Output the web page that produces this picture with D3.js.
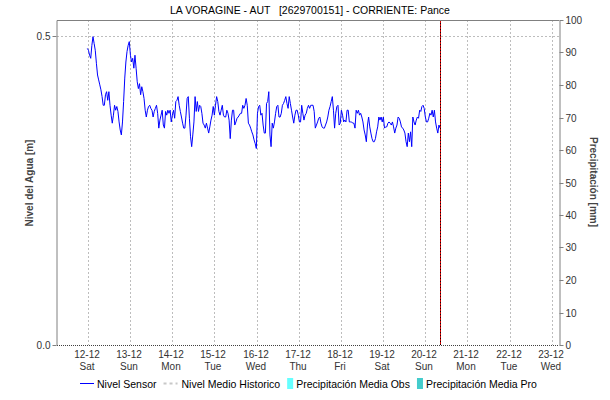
<!DOCTYPE html>
<html>
<head>
<meta charset="utf-8">
<script src="https://cdn.jsdelivr.net/npm/d3@7"></script>
<style>
  body { margin: 0; background: #fff; }
  svg { display: block; font-family: "Liberation Sans", Arial, sans-serif; }
</style>
</head>
<body>
<svg id="chart" width="610" height="400"></svg>
<script>
// Estación y serie de nivel
const titulo = "LA VORAGINE - AUT   [2629700151] - CORRIENTE: Pance";
const inicioSerie = "2020-12-11T23:36:00Z";
const pasoMinutos = 38.75;
const nivel = [
  0.480,0.477,0.469,0.464,0.485,0.499,0.488,0.477,0.456,0.437,
  0.429,0.421,0.413,0.402,0.388,0.388,0.405,0.410,0.396,0.410,
  0.388,0.372,0.359,0.372,0.388,0.380,0.386,0.378,0.361,0.348,
  0.340,0.361,0.394,0.432,0.458,0.475,0.485,0.491,0.469,0.458,
  0.464,0.448,0.469,0.448,0.426,0.415,0.423,0.405,0.418,0.410,
  0.399,0.380,0.369,0.380,0.386,0.388,0.383,0.380,0.369,0.378,
  0.383,0.388,0.375,0.351,0.364,0.372,0.380,0.356,0.351,0.378,
  0.372,0.380,0.375,0.380,0.361,0.372,0.380,0.367,0.394,0.396,
  0.402,0.388,0.378,0.369,0.359,0.351,0.351,0.372,0.399,0.402,
  0.367,0.337,0.321,0.340,0.361,0.402,0.378,0.394,0.378,0.388,
  0.386,0.375,0.359,0.356,0.351,0.359,0.351,0.343,0.353,0.364,
  0.372,0.386,0.372,0.388,0.402,0.394,0.378,0.372,0.380,0.388,
  0.372,0.369,0.369,0.380,0.375,0.364,0.334,0.364,0.380,0.380,
  0.356,0.361,0.367,0.369,0.372,0.375,0.375,0.388,0.383,0.388,
  0.399,0.388,0.359,0.356,0.351,0.345,0.340,0.332,0.326,0.318,
  0.375,0.386,0.388,0.372,0.375,0.356,0.343,0.343,0.391,0.394,
  0.410,0.340,0.321,0.359,
  0.351,0.361,0.375,0.386,0.388,0.369,0.369,0.375,0.388,0.391,
  0.396,0.402,0.391,0.383,0.402,0.391,0.380,0.369,0.359,0.372,
  0.380,0.380,0.372,0.361,0.361,0.388,0.375,0.364,0.372,0.375,
  0.383,0.388,0.383,0.388,0.388,0.388,0.378,0.351,0.356,0.361,
  0.367,0.369,0.359,0.353,0.351,0.351,0.356,0.361,0.369,0.380,
  0.386,0.394,0.402,0.380,0.351,0.375,0.386,0.388,0.356,0.359,
  0.380,0.372,0.361,0.364,0.361,0.380,0.380,0.361,0.361,0.361,
  0.359,0.359,0.351,0.380,0.375,0.380,0.372,0.375,0.369,0.361,
  0.348,0.340,0.329,0.356,0.369,0.353,0.343,0.334,0.329,0.329,
  0.334,0.345,0.353,0.369,0.364,0.369,0.361,0.369,0.351,0.353,
  0.353,0.359,0.361,0.359,0.356,0.361,0.353,0.343,0.351,0.356,
  0.369,0.367,0.361,0.353,0.351,0.348,0.343,0.329,0.321,0.343,
  0.329,0.345,0.321,0.369,0.361,0.356,0.364,0.369,0.367,0.380,
  0.378,0.386,0.388,0.383,0.369,0.361,0.361,0.367,0.375,0.372,
  0.380,0.369,0.380,0.361,0.351,0.343,0.356,0.351
];

// Ejes
const dias = ["2020-12-12","2020-12-13","2020-12-14","2020-12-15","2020-12-16","2020-12-17",
              "2020-12-18","2020-12-19","2020-12-20","2020-12-21","2020-12-22","2020-12-23"];
const dominioTiempo = ["2020-12-11T06:20:00Z", "2020-12-23T04:10:00Z"];
const ticksNivel = [0, 0.5];
const maxNivel = 0.526;
const ticksPrecip = [0, 10, 20, 30, 40, 50, 60, 70, 80, 90, 100];
const horaActual = "2020-12-20T08:27:00Z";

// Leyenda
const leyenda = [
  { nombre: "Nivel Sensor", tipo: "linea", color: "#0000ff" },
  { nombre: "Nivel Medio Historico", tipo: "punteada", color: "#c8c8c8" },
  { nombre: "Precipitación Media Obs", tipo: "caja", color: "#66ffff" },
  { nombre: "Precipitación Media Pro", tipo: "caja", color: "#44cccc" }
];

const svg = d3.select("#chart");
const area = { izq: 57, der: 559, sup: 20, inf: 345 };

const t0 = new Date(inicioSerie).getTime();
const serie = nivel.map((v, i) => ({ t: new Date(t0 + i * pasoMinutos * 60000), v }));

const x = d3.scaleUtc().domain(dominioTiempo.map(d => new Date(d))).range([area.izq, area.der]);
const yN = d3.scaleLinear().domain([0, maxNivel]).range([area.inf, area.sup]);
const yP = d3.scaleLinear().domain([0, 100]).range([area.inf, area.sup]);

const gris = "#bdbdbd";

// Rejilla
const rej = svg.append("g");
rej.selectAll("line.v").data(dias).join("line")
  .attr("x1", d => Math.round(x(new Date(d + "T00:00:00Z"))) + 0.5)
  .attr("x2", d => Math.round(x(new Date(d + "T00:00:00Z"))) + 0.5)
  .attr("y1", area.sup).attr("y2", area.inf)
  .attr("stroke", gris).attr("stroke-dasharray", "2,2");
rej.selectAll("line.h").data(ticksNivel.filter(d => d > 0)).join("line")
  .attr("x1", area.izq).attr("x2", area.der)
  .attr("y1", d => Math.round(yN(d)) + 0.5).attr("y2", d => Math.round(yN(d)) + 0.5)
  .attr("stroke", gris).attr("stroke-dasharray", "2,2");

// Nivel del sensor
svg.append("path").datum(serie)
  .attr("fill", "none").attr("stroke", "#0000ff").attr("stroke-width", 1)
  .attr("d", d3.line().x(d => x(d.t)).y(d => yN(d.v)));

// Hora actual
const xa = Math.round(x(new Date(horaActual))) + 0.5;
svg.append("line").attr("x1", xa).attr("x2", xa).attr("y1", area.sup).attr("y2", area.inf)
  .attr("stroke", "#cc0000");
svg.append("line").attr("x1", xa).attr("x2", xa).attr("y1", area.sup).attr("y2", area.inf)
  .attr("stroke", "#200000").attr("stroke-dasharray", "1,2").attr("stroke-width", 1);

// Marco
svg.append("line").attr("x1", area.izq).attr("x2", area.der).attr("y1", area.sup + 0.5).attr("y2", area.sup + 0.5)
  .attr("stroke", "#808080");
svg.append("line").attr("x1", area.izq).attr("x2", area.der).attr("y1", area.inf + 0.5).attr("y2", area.inf + 0.5)
  .attr("stroke", "#404040").attr("stroke-dasharray", "1,1");

// Eje izquierdo
const ejeIzq = svg.append("g").attr("transform", `translate(${area.izq - 0.5},0)`)
  .call(d3.axisLeft(yN).tickValues(ticksNivel).tickFormat(d3.format(".1f")).tickSize(4).tickPadding(2).tickSizeOuter(0));
// Eje derecho
const ejeDer = svg.append("g").attr("transform", `translate(${area.der + 0.5},0)`)
  .call(d3.axisRight(yP).tickValues(ticksPrecip).tickSize(4).tickPadding(2).tickSizeOuter(0));
[ejeIzq, ejeDer].forEach(g => {
  g.select(".domain").attr("stroke", "#808080");
  g.selectAll(".tick line").attr("stroke", "#808080");
  g.selectAll(".tick text").attr("fill", "#333").style("font-size", "10px")
    .style("font-family", '"Liberation Sans", Arial, sans-serif');
});
ejeIzq.selectAll(".tick").attr("transform", d => `translate(0,${Math.round(yN(d)) + 0.5})`);
ejeDer.selectAll(".tick").attr("transform", d => `translate(0,${Math.round(yP(d)) + 0.5})`);

// Etiquetas de fecha
const fmtFecha = d3.utcFormat("%d-%m");
const fmtDia = d3.utcFormat("%a");
const etiq = svg.append("g").attr("fill", "#333").style("font-size", "10px").attr("text-anchor", "middle");
dias.forEach(d => {
  const f = new Date(d + "T00:00:00Z");
  const px = Math.round(x(f)) - 1;
  etiq.append("text").attr("x", px).attr("y", 358).text(fmtFecha(f));
  etiq.append("text").attr("x", px).attr("y", 370).text(fmtDia(f));
});

// Títulos
svg.append("text").attr("x", 310).attr("y", 14).attr("text-anchor", "middle")
  .style("font-size", "10.5px").style("white-space", "pre").attr("fill", "#000").text(titulo);
svg.append("text").attr("transform", "translate(33,183) rotate(-90)").attr("text-anchor", "middle")
  .style("font-size", "10px").style("font-weight", "bold").attr("fill", "#444").text("Nivel del Agua [m]");
svg.append("text").attr("transform", "translate(590,182) rotate(90)").attr("text-anchor", "middle")
  .style("font-size", "10px").style("font-weight", "bold").attr("fill", "#444").text("Precipitación [mm]");

// Leyenda
const gl = svg.append("g").style("font-size", "10.5px").attr("fill", "#000");
let cx = 80;
const yl = 388;
leyenda.forEach(it => {
  if (it.tipo === "linea") {
    gl.append("line").attr("x1", cx).attr("x2", cx + 14).attr("y1", yl - 4.5).attr("y2", yl - 4.5)
      .attr("stroke", it.color).attr("stroke-width", 1);
    cx += 17;
  } else if (it.tipo === "punteada") {
    gl.append("line").attr("x1", cx).attr("x2", cx + 14).attr("y1", yl - 4.5).attr("y2", yl - 4.5)
      .attr("stroke", it.color).attr("stroke-width", 2).attr("stroke-dasharray", "3,3");
    cx += 18;
  } else {
    gl.append("rect").attr("x", cx).attr("y", yl - 10).attr("width", 6).attr("height", 11).attr("fill", it.color);
    cx += 9;
  }
  const t = gl.append("text").attr("x", cx).attr("y", yl).text(it.nombre);
  cx += t.node().getComputedTextLength() + 7;
});
</script>
</body>
</html>
